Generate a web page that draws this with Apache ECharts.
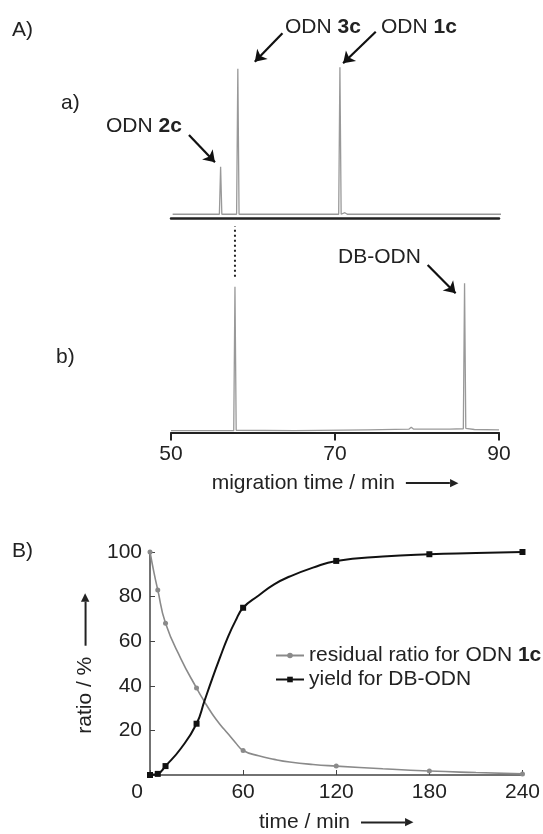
<!DOCTYPE html>
<html>
<head>
<meta charset="utf-8">
<script src="https://cdn.jsdelivr.net/npm/echarts@6/dist/echarts.min.js"></script>
<style>
html, body { margin: 0; padding: 0; background: #fff; }
#chart { width: 543px; height: 834px; }
</style>
</head>
<body>
<div id="chart"></div>
<script>
// A) electropherograms, migration time in min, signal in arbitrary units
const traceATime = [50.2, 55.9, 56.05, 56.2, 58.0, 58.15, 58.3, 70.45, 70.6, 70.75, 71.2, 71.5, 71.8, 90.4];
const traceASignal = [2.5, 2.5, 34, 2.5, 2.5, 99, 2.5, 2.5, 100, 2.5, 3.5, 2.5, 2.5, 2.5];
const traceBTime = [50, 57.65, 57.8, 57.95, 65, 74, 79.0, 79.3, 79.6, 84, 85.65, 85.8, 85.95, 87, 90];
const traceBSignal = [1.2, 1.2, 97.7, 1.5, 1.2, 1.8, 2.2, 3.5, 2.2, 2.2, 2.5, 100, 2.8, 2, 1.8];
// dotted guide linking the ODN 3c peaks
const guideTime = [57.8, 57.8];
const guideSignal = [104.4, 138.3];
// annotation arrows: [tail time, tail signal, head time, head signal]
const arrowsA = [[52.19, 55.0, 55.36, 36.9], [63.59, 122.5, 60.22, 103.6], [74.97, 123.5, 70.99, 102.6]];
const arrowsB = [[81.3, 112.3, 84.71, 93.3]];

// B) kinetics, measured points (with markers)
const reactionTime = [0, 5, 10, 30, 60, 120, 180, 240];
const residualRatio = [100, 83, 68, 39, 11, 4, 1.8, 0.5];
const yieldDB = [0, 0.5, 4, 23, 75, 96, 99, 100];
// fitted curves read between the markers (no marker drawn)
const curveTime = [2.5, 20, 35, 40, 45, 50, 55, 70, 80, 90, 105, 150, 210];
const residualCurve = [91, 52, 33, 27.5, 22.8, 18.7, 14.6, 8.6, 7, 5.8, 4.7, 2.8, 1.1];
const yieldCurve = [0.2, 12, 33, 43, 52.5, 61.5, 69, 80.5, 85.5, 89, 93, 98, 99.5];

const FONT = 'Liberation Sans, Arial, sans-serif';
const INK = '#222';

const zip = (xs, ys) => xs.map((x, i) => [x, ys[i]]);
const arrowData = list => list.map(a => [{ coord: [a[0], a[1]] }, { coord: [a[2], a[3]] }]);
function withCurve(measured, curve) {
    let pts = reactionTime.map((t, i) => ({ value: [t, measured[i]] }))
        .concat(curveTime.map((t, i) => ({ value: [t, curve[i]], symbol: 'none' })));
    return pts.sort((a, b) => a.value[0] - b.value[0]);
}

const arrowRich = {
    t: { fontSize: 21, fontFamily: FONT, color: INK },
    g: { width: 11 },
    l: { width: 44, height: 2, backgroundColor: INK },
    h: { fontSize: 11, fontFamily: 'DejaVu Sans', color: INK }
};
const boldRich = {
    n: { fontSize: 21, fontFamily: FONT, color: INK },
    b: { fontSize: 21, fontFamily: FONT, color: INK, fontWeight: 'bold' }
};

function txt(x, y, text, rich) {
    return {
        type: 'text', x: x, y: y,
        style: {
            text: text, fontSize: 21, fontFamily: FONT, fill: INK,
            verticalAlign: 'middle', rich: rich
        }
    };
}

let chart = echarts.init(document.getElementById('chart'));

let option = {
    animation: false,
    backgroundColor: '#fff',
    textStyle: { fontFamily: FONT },
    grid: [
        { left: 171, right: 44, top: 22, height: 196 },
        { left: 171, right: 44, top: 223.6, height: 208.9 },
        { left: 150, right: 19, top: 552, bottom: 56 }
    ],
    xAxis: [
        {
            gridIndex: 0, type: 'value', min: 50, max: 90,
            axisLine: { lineStyle: { color: '#222', width: 2.5 } },
            axisTick: { show: false }, axisLabel: { show: false }, splitLine: { show: false }
        },
        {
            gridIndex: 1, type: 'value', min: 50, max: 90, interval: 20,
            name: '{t|migration time / min}{g| }{l| }{h|▶}',
            nameLocation: 'middle', nameGap: 40,
            nameTextStyle: { rich: arrowRich },
            axisLine: { lineStyle: { color: '#222', width: 2 } },
            axisTick: { length: 8, lineStyle: { color: '#222', width: 2 } },
            axisLabel: { fontSize: 21, color: INK, margin: 11 },
            splitLine: { show: false }
        },
        {
            gridIndex: 2, type: 'value', min: 0, max: 240, interval: 60,
            name: '{t|time / min}{g| }{l| }{h|▶}',
            nameLocation: 'middle', nameGap: 37,
            nameTextStyle: { rich: arrowRich },
            axisLine: { lineStyle: { color: '#444', width: 1.5 } },
            axisTick: { inside: true, length: 5, lineStyle: { color: '#444' } },
            axisLabel: {
                fontSize: 21, color: INK, margin: 7,
                formatter: v => v === 0 ? '{z|0}' : String(v),
                rich: { z: { fontSize: 21, fontFamily: FONT, color: INK, padding: [0, 26, 0, 0] } }
            },
            splitLine: { show: false }
        }
    ],
    yAxis: [
        { gridIndex: 0, type: 'value', min: 0, max: 130, show: false },
        { gridIndex: 1, type: 'value', min: 0, max: 140, show: false },
        {
            gridIndex: 2, type: 'value', min: 0, max: 100, interval: 20,
            name: '{t|ratio / %}{g| }{l| }{h|▶}',
            nameLocation: 'middle', nameGap: 50, nameRotate: 90,
            nameTextStyle: { rich: arrowRich },
            axisLine: { lineStyle: { color: '#444', width: 1.5 } },
            axisTick: { inside: true, length: 5, lineStyle: { color: '#444' } },
            axisLabel: { fontSize: 21, color: INK, margin: 8, formatter: v => v === 0 ? '' : String(v) },
            splitLine: { show: false }
        }
    ],
    legend: {
        orient: 'vertical', left: 270, top: 640,
        itemWidth: 28, itemHeight: 7, itemGap: 3,
        textStyle: { fontSize: 21, color: INK, rich: boldRich },
        formatter: name => name === 'residual ratio for ODN 1c'
            ? '{n|residual ratio for ODN }{b|1c}' : '{n|' + name + '}',
        data: ['residual ratio for ODN 1c', 'yield for DB-ODN']
    },
    graphic: [
        txt(12, 30, 'A)'),
        txt(61, 103, 'a)'),
        txt(56, 357, 'b)'),
        txt(12, 551, 'B)'),
        txt(106, 126, '{n|ODN }{b|2c}', boldRich),
        txt(285, 27, '{n|ODN }{b|3c}', boldRich),
        txt(381, 27, '{n|ODN }{b|1c}', boldRich),
        txt(338, 257, 'DB-ODN')
    ],
    series: [
        {
            type: 'line', xAxisIndex: 0, yAxisIndex: 0, clip: false,
            data: zip(traceATime, traceASignal),
            symbol: 'none', lineStyle: { color: '#999', width: 1.3 },
            markLine: {
                silent: true, symbol: ['none', 'arrow'], symbolSize: 11,
                label: { show: false },
                lineStyle: { color: '#111', width: 2.2, type: 'solid' },
                data: arrowData(arrowsA)
            }
        },
        {
            type: 'line', xAxisIndex: 1, yAxisIndex: 1,
            data: zip(traceBTime, traceBSignal),
            symbol: 'none', lineStyle: { color: '#999', width: 1.3 },
            markLine: {
                silent: true, symbol: ['none', 'arrow'], symbolSize: 11,
                label: { show: false },
                lineStyle: { color: '#111', width: 2.2, type: 'solid' },
                data: arrowData(arrowsB)
            }
        },
        {
            type: 'line', xAxisIndex: 1, yAxisIndex: 1,
            data: zip(guideTime, guideSignal),
            symbol: 'none', lineStyle: { color: '#222', width: 2, type: [2, 3] }
        },
        {
            name: 'residual ratio for ODN 1c',
            type: 'line', xAxisIndex: 2, yAxisIndex: 2,
            data: withCurve(residualRatio, residualCurve),
            smooth: 0.5,
            symbol: 'circle', symbolSize: 5,
            itemStyle: { color: '#8a8a8a' },
            lineStyle: { color: '#8a8a8a', width: 1.6 }
        },
        {
            name: 'yield for DB-ODN',
            type: 'line', xAxisIndex: 2, yAxisIndex: 2,
            data: withCurve(yieldDB, yieldCurve),
            smooth: 0.5,
            symbol: 'rect', symbolSize: 6,
            itemStyle: { color: '#111' },
            lineStyle: { color: '#111', width: 2 }
        }
    ]
};
chart.setOption(option);

window.addEventListener('resize', () => {
    chart.resize()
})
</script>
</body>
</html>
